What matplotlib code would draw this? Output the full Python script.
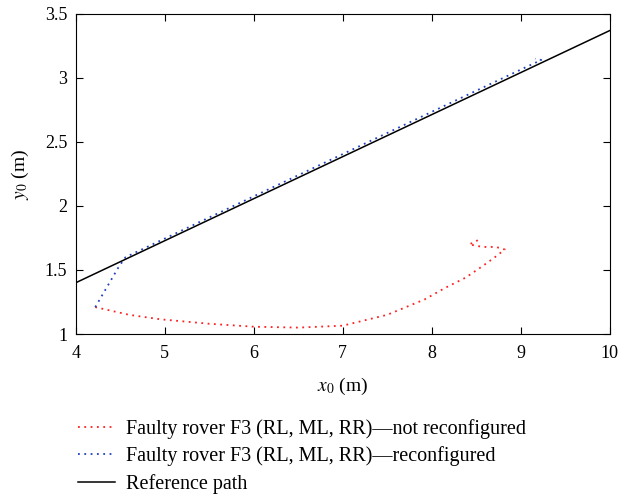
import numpy as np
import matplotlib.pyplot as plt

plt.rcParams['font.family'] = ['Liberation Serif', 'DejaVu Serif']
plt.rcParams['mathtext.fontset'] = 'stix'

# faulty rover, not reconfigured
red_x = [4.22, 4.6, 4.95, 5.5, 6.0, 6.5, 7.0, 7.5, 7.92, 8.15, 8.38, 8.57, 8.71, 8.82,
         8.72, 8.57, 8.42, 8.49, 8.55]
red_y = [1.21, 1.15, 1.115, 1.08, 1.057, 1.05, 1.065, 1.15, 1.27, 1.36, 1.44, 1.53, 1.60, 1.66,
         1.68, 1.68, 1.70, 1.72, 1.75]

# faulty rover, reconfigured
blue_x = [4.22, 4.48, 4.56, 5.0, 6.0, 7.0, 8.0, 9.0, 9.23, 9.16]
blue_y = [1.21, 1.52, 1.60, 1.745, 2.075, 2.405, 2.735, 3.065, 3.14, 3.15]

# reference path
ref_x = [4.0, 10.0]
ref_y = [1.40, 3.37]

fig = plt.figure(figsize=(6.28, 4.96), dpi=100)
ax = fig.add_axes([0.1205, 0.3266, 0.8505, 0.6454])

l1, = ax.plot(red_x, red_y, color='#ff2020', linestyle=(0, (1, 2.5)), linewidth=1.3)
l2, = ax.plot(blue_x, blue_y, color='#2040c0', linestyle=(0, (1, 2.5)), linewidth=1.3)
l3, = ax.plot(ref_x, ref_y, color='black', linewidth=1.1)

ax.set_xlim(4, 10)
ax.set_ylim(1, 3.5)
ax.set_xticks(range(4, 11))
ax.set_yticks([1, 1.5, 2, 2.5, 3, 3.5])
ax.set_yticklabels(['1', '1.5', '2', '2.5', '3', '3.5'])
ax.tick_params(direction='in', top=True, right=True, labelsize=13, length=5)
ax.tick_params(axis='x', pad=8)
ax.tick_params(axis='y', pad=6)
ax.set_xlabel(r'$x_0$ (m)', fontsize=14, labelpad=10)
ax.set_ylabel(r'$y_0$ (m)', fontsize=14, labelpad=10)

fig.legend([l1, l2, l3],
           ['Faulty rover F3 (RL, ML, RR)\u2014not reconfigured',
            'Faulty rover F3 (RL, ML, RR)\u2014reconfigured',
            'Reference path'],
           loc='upper left', bbox_to_anchor=(0.112, 0.172), frameon=False,
           fontsize=14.5, handlelength=1.8, labelspacing=0.38, borderaxespad=0,
           handletextpad=0.55)

plt.savefig('out.png', dpi=100)
